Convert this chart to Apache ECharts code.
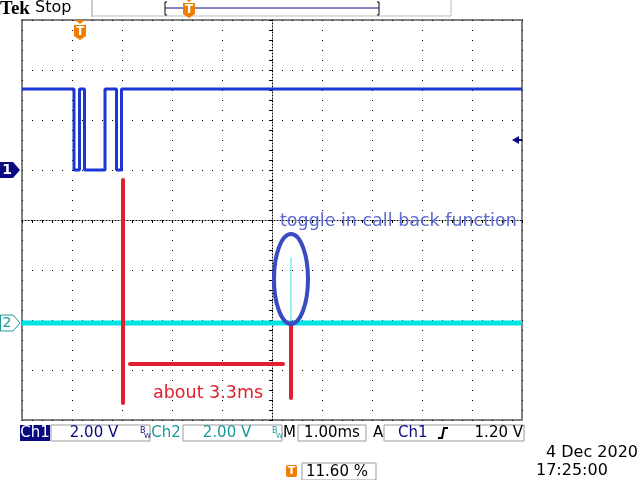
<!DOCTYPE html>
<html>
<head>
<meta charset="utf-8">
<script src="https://cdn.jsdelivr.net/npm/echarts@6/dist/echarts.min.js"></script>
<style>
    html, body { margin: 0; padding: 0; background: #fff; }
    #scope { width: 640px; height: 480px; }
</style>
</head>
<body>
<div id="scope"></div>
<script>
// time in ms from screen centre (1.00 ms/div), level in divisions from centre
const ch1Times  = [-5, -3.96, -3.96, -3.85, -3.85, -3.75, -3.75, -3.34, -3.34, -3.11, -3.11, -3.01, -3.01, 5];
const ch1Levels = [2.62, 2.62, 1.0, 1.0, 2.62, 2.62, 1.0, 1.0, 2.62, 2.62, 1.0, 1.0, 2.62, 2.62];
const ch2Times  = [-5, 5];
const ch2Levels = [-2.06, -2.06];
const spikeTimes  = [0.38, 0.38];
const spikeLevels = [-2.06, -0.74];

// hand drawn notes (same units)
const markerA = [[-2.98, 0.8], [-2.98, -3.66]];
const markerB = [[0.38, -2.06], [0.38, -3.56]];
const spanLine = [[-2.84, -2.88], [0.22, -2.88]];
const toggleNote = 'toggle in call back function';
const spanNote = 'about 3.3ms';

// status bar texts
const ch1Scale = '2.00 V';
const ch2Scale = '2.00 V';
const timeBase = '1.00ms';
const trigLevel = '1.20 V';
const trigPos = '11.60 %';
const dateText = '4 Dec 2020';
const timeText = '17:25:00';

const BLUE1 = '#1a36d6';
const CYAN = '#00e4e4';
const RED = '#e0202e';
const NAVY = '#0a0a80';
const TEAL = '#1a9a9a';
const ORANGE = '#f07c00';

function pairs(xs, ys) {
    return xs.map((x, i) => [x, ys[i]]);
}

function initChart() {
    const chart = echarts.init(document.getElementById('scope'), null, { renderer: 'canvas' });

    const hideLabel = { show: false };
    const tickStyle = { color: '#000', width: 1 };

    const option = {
        animation: false,
        backgroundColor: '#fff',
        grid: {
            left: 22, top: 20, width: 500, height: 400,
            show: true, borderColor: '#808080', borderWidth: 2
        },
        xAxis: [
            {
                type: 'value', min: -5, max: 5, interval: 1,
                axisLine: { onZero: true, lineStyle: { color: '#000', type: [1, 2], width: 1 } },
                axisTick: { show: true, length: 3, lineStyle: tickStyle },
                minorTick: { show: true, splitNumber: 5, length: 3, lineStyle: tickStyle },
                axisLabel: hideLabel,
                splitLine: { show: true, lineStyle: { color: '#000', type: [1, 9], width: 1 } }
            },
            {
                type: 'value', position: 'top', min: -5, max: 5, interval: 1,
                axisLine: { show: false },
                axisTick: { show: true, inside: true, length: 3, lineStyle: tickStyle },
                minorTick: { show: true, splitNumber: 5, length: 3, lineStyle: tickStyle },
                axisLabel: hideLabel, splitLine: { show: false }
            }
        ],
        yAxis: [
            {
                type: 'value', min: -4, max: 4, interval: 1,
                axisLine: { onZero: true, lineStyle: { color: '#000', type: [1, 2], width: 1 } },
                axisTick: { show: true, length: 3, lineStyle: tickStyle },
                minorTick: { show: true, splitNumber: 5, length: 3, lineStyle: tickStyle },
                axisLabel: hideLabel,
                splitLine: { show: true, lineStyle: { color: '#000', type: [1, 9], width: 1 } }
            },
            {
                type: 'value', position: 'right', min: -4, max: 4, interval: 1,
                axisLine: { show: false },
                axisTick: { show: true, inside: true, length: 3, lineStyle: tickStyle },
                minorTick: { show: true, splitNumber: 5, length: 3, lineStyle: tickStyle },
                axisLabel: hideLabel, splitLine: { show: false }
            }
        ],
        series: [
            {
                name: 'Ch1', type: 'line', data: pairs(ch1Times, ch1Levels),
                symbol: 'none', lineStyle: { color: BLUE1, width: 3 }, z: 5
            },
            {
                name: 'Ch2', type: 'line', data: pairs(ch2Times, ch2Levels),
                symbol: 'none', lineStyle: { color: CYAN, width: 5 }, z: 4
            },
            {
                name: 'Ch2 toggle', type: 'line', data: pairs(spikeTimes, spikeLevels),
                symbol: 'none', lineStyle: { color: '#30e8e8', width: 1 }, z: 4
            },
            // red hand drawn marks
            {
                type: 'line', data: markerA, symbol: 'none', silent: true,
                lineStyle: { color: RED, width: 4, cap: 'round' }, z: 6
            },
            {
                type: 'line', data: markerB, symbol: 'none', silent: true,
                lineStyle: { color: RED, width: 4, cap: 'round' }, z: 6
            },
            {
                type: 'line', data: spanLine, symbol: 'none', silent: true,
                lineStyle: { color: RED, width: 4, cap: 'round' }, z: 6
            }
        ]
    };

    chart.setOption(option);

    const px = (p) => chart.convertToPixel({ xAxisIndex: 0, yAxisIndex: 0 }, p);

    function txt(x, y, text, fill, font, align) {
        return {
            type: 'text', x: x, y: y, z: 20,
            style: {
                text: text, fill: fill, font: font,
                align: align || 'left', verticalAlign: 'middle',
                textAlign: align || 'left', textVerticalAlign: 'middle'
            }
        };
    }
    function box(x, y, w, h, fill, stroke) {
        return {
            type: 'rect', z: 15, shape: { x: x, y: y, width: w, height: h },
            style: { fill: fill, stroke: stroke || null, lineWidth: 1 }
        };
    }
    function line(x1, y1, x2, y2, color, w) {
        return {
            type: 'line', z: 15, shape: { x1: x1, y1: y1, x2: x2, y2: y2 },
            style: { stroke: color, lineWidth: w || 1 }
        };
    }
    function tMarker(cx, top) {
        // orange trigger flag with a "T"
        return [
            { type: 'polygon', z: 16, shape: { points: [[cx - 5, top], [cx + 5, top], [cx, top + 4]] }, style: { fill: ORANGE } },
            { type: 'polygon', z: 16, shape: { points: [[cx - 6, top + 5], [cx + 6, top + 5], [cx + 6, top + 16], [cx, top + 20], [cx - 6, top + 16]] }, style: { fill: ORANGE } },
            txt(cx, top + 12, 'T', '#fff', 'bold 12px "DejaVu Sans"', 'center')
        ];
    }

    const trigX = px([-3.84, 0])[0];
    const ellC = px([0.38, -1.18]);
    const noteA = px([0.16, 0.0]);
    const noteB = px([-2.38, -3.46]);
    const trigLvl = px([5, 1.6]);
    const gnd1 = px([-5, 1.0]);
    const gnd2 = px([-5, -2.06]);

    const graphics = [
        // header
        txt(0, 9, 'Tek', '#000', 'bold 19px "Liberation Serif"'),
        txt(35, 8, 'Stop', '#000', '16px "DejaVu Sans"'),
        line(92, 0, 92, 17, '#999'),
        line(451, 0, 451, 16, '#bbb'),
        line(92, 16, 451, 16, '#bbb'),
        { type: 'polyline', z: 15, shape: { points: [[167, 2], [165, 2], [165, 15], [167, 15]] }, style: { stroke: '#000', fill: null } },
        { type: 'polyline', z: 15, shape: { points: [[377, 2], [379, 2], [379, 15], [377, 15]] }, style: { stroke: '#000', fill: null } },
        line(165, 8, 379, 8, NAVY),
        ...tMarker(189, -2),
        ...tMarker(trigX, 20),

        // channel ground markers
        { type: 'polygon', z: 16, shape: { points: [[0, gnd1[1] - 8], [13, gnd1[1] - 8], [20, gnd1[1]], [13, gnd1[1] + 8], [0, gnd1[1] + 8]] }, style: { fill: NAVY } },
        txt(7, gnd1[1], '1', '#fff', 'bold 14px "DejaVu Sans"', 'center'),
        { type: 'polygon', z: 16, shape: { points: [[0.5, gnd2[1] - 8], [13, gnd2[1] - 8], [20, gnd2[1]], [13, gnd2[1] + 8], [0.5, gnd2[1] + 8]] }, style: { fill: '#fff', stroke: TEAL, lineWidth: 1 } },
        txt(7, gnd2[1], '2', TEAL, '14px "DejaVu Sans"', 'center'),
        // trigger level arrow
        { type: 'polygon', z: 16, shape: { points: [[512, trigLvl[1]], [519, trigLvl[1] - 4], [519, trigLvl[1] + 4]] }, style: { fill: NAVY } },
        line(518, trigLvl[1], 522, trigLvl[1], NAVY, 2),

        // notes
        {
            type: 'ellipse', z: 18, shape: { cx: ellC[0], cy: ellC[1], rx: 17, ry: 45 },
            style: { fill: null, stroke: '#3a4bc2', lineWidth: 4 }
        },
        txt(noteA[0], noteA[1] + 1, toggleNote, '#5a6ad0', '17.5px "DejaVu Sans"'),
        txt(noteB[0], noteB[1], spanNote, RED, '17.5px "DejaVu Sans"'),

        // status bar
        box(20, 425, 30, 16, NAVY),
        txt(35, 433, 'Ch1', '#fff', '15px "DejaVu Sans"', 'center'),
        box(51, 425, 99, 16, '#fff', '#999'),
        txt(94, 433, ch1Scale, NAVY, '15px "DejaVu Sans"', 'center'),
        txt(140, 431, 'B', NAVY, '8px "DejaVu Sans"'),
        txt(144, 436, 'W', NAVY, '7px "DejaVu Sans"'),
        txt(166, 433, 'Ch2', TEAL, '15px "DejaVu Sans"', 'center'),
        box(183, 425, 99, 16, '#fff', '#999'),
        txt(227, 433, ch2Scale, TEAL, '15px "DejaVu Sans"', 'center'),
        txt(272, 431, 'B', TEAL, '8px "DejaVu Sans"'),
        txt(276, 436, 'W', TEAL, '7px "DejaVu Sans"'),
        txt(283, 433, 'M', '#000', '15px "DejaVu Sans"'),
        box(298, 425, 68, 16, '#fff', '#999'),
        txt(332, 433, timeBase, '#000', '15px "DejaVu Sans"', 'center'),
        txt(373, 433, 'A', '#000', '15px "DejaVu Sans"'),
        box(384, 425, 140, 16, '#fff', '#999'),
        txt(398, 433, 'Ch1', NAVY, '15px "DejaVu Sans"'),
        { type: 'polyline', z: 16, shape: { points: [[438, 438], [442, 438], [444, 428], [448, 428]] }, style: { stroke: '#000', lineWidth: 2, fill: null } },
        txt(523, 433, trigLevel, '#000', '15px "DejaVu Sans"', 'right'),

        { type: 'rect', z: 16, shape: { x: 286, y: 465, width: 11, height: 12, r: 2 }, style: { fill: ORANGE } },
        txt(291.5, 471, 'T', '#fff', 'bold 11px "DejaVu Sans"', 'center'),
        box(302, 463, 74, 17, '#fff', '#999'),
        txt(306, 472, trigPos, '#000', '15px "DejaVu Sans"'),
        txt(638, 453, dateText, '#000', '16px "DejaVu Sans"', 'right'),
        txt(536, 471, timeText, '#000', '16px "DejaVu Sans"')
    ];

    chart.setOption({ graphic: graphics });
}

window.addEventListener('load', initChart);
</script>
</body>
</html>
